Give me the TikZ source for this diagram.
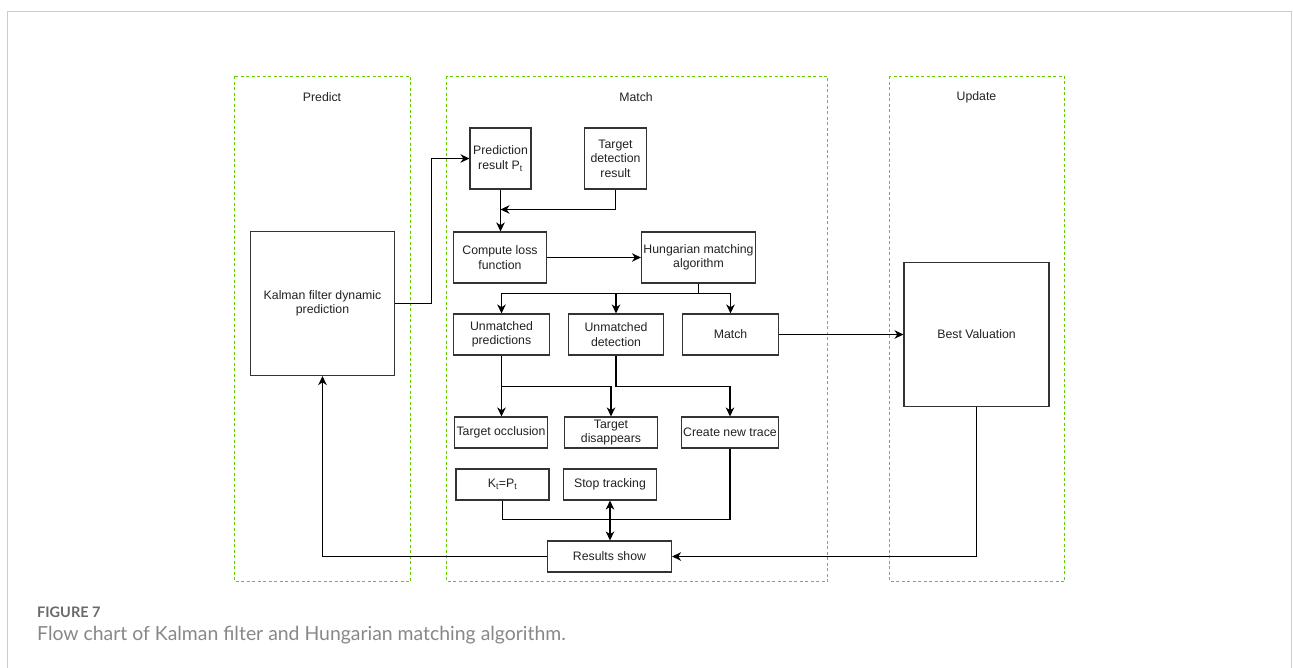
\documentclass[tikz,border=0pt]{standalone}
\usepackage{fontspec}
\setmainfont{Liberation Sans}
\newfontfamily\capfont{Lato}
\usetikzlibrary{arrows.meta,calc}
\definecolor{grn}{HTML}{66CC00}
\definecolor{boxc}{HTML}{333333}
\definecolor{txtc}{HTML}{222222}
\definecolor{framec}{HTML}{CCCCCC}
\definecolor{capc}{HTML}{888888}
\definecolor{figc}{HTML}{6A6A6A}
\begin{document}
\begin{tikzpicture}[x=1pt,y=-1pt,
  box/.style={draw=boxc,line width=1.1pt,fill=white,align=center,inner sep=0pt,
    font=\fontsize{12.3}{14.5}\selectfont,text=txtc},
  group/.style={draw=grn,line width=0.9pt,dash pattern=on 3pt off 2.5pt},
  grouplabel/.style={font=\fontsize{12.3}{14.5}\selectfont,text=txtc},
  conn/.style={draw=black,line width=1.1pt},
  tip/.style={},
  arr/.style={conn,-{Stealth[length=9pt,width=8.5pt,inset=2.8pt]}},
  darr/.style={conn,{Stealth[length=9pt,width=8.5pt,inset=2.8pt]}-{Stealth[length=9pt,width=8.5pt,inset=2.8pt]}}]
\useasboundingbox (0,0) rectangle (1293,668);
\fill[white] (0,0) rectangle (1293,668);
% outer frame (open at bottom)
\draw[framec,line width=1.2pt] (7.5,668) -- (7.5,11.5) -- (1291.5,11.5) -- (1291.5,668);
% groups
\draw[group] (234.5,76.5) rectangle (410.5,581.5);
\draw[group] (446.5,76.5) rectangle (827.5,581.5);
\draw[group] (889.5,76.5) rectangle (1064.5,581.5);
\node[grouplabel] (lpred) at (322,97.5) {Predict};
\node[grouplabel] (lmatch) at (636,97.5) {Match};
\node[grouplabel] (lupd) at (976.5,97.5) {Update};
% boxes
\node[box,minimum width=144pt,minimum height=144pt] (kal) at (322.5,303.5) {Kalman filter dynamic\\prediction};
\node[box,minimum width=61pt,minimum height=61pt] (pred) at (500.5,158.5) {Prediction\\result P\textsubscript{t}};
\node[box,minimum width=62pt,minimum height=61pt] (tdet) at (615.5,158.5) {Target\\detection\\result};
\node[box,minimum width=93pt,minimum height=51pt] (loss) at (500,257.5) {Compute loss\\function};
\node[box,minimum width=114pt,minimum height=51pt] (hung) at (698.5,257.5) {Hungarian matching\\algorithm};
\node[box,minimum width=96pt,minimum height=41pt] (upred) at (501.5,334.5) {Unmatched\\predictions};
\node[box,minimum width=95pt,minimum height=41pt] (udet) at (616,334.5) {Unmatched\\detection};
\node[box,minimum width=96pt,minimum height=41pt] (match) at (730.5,334.5) {Match};
\node[box,minimum width=93pt,minimum height=31pt] (occ) at (501,432.5) {Target occlusion};
\node[box,minimum width=93pt,minimum height=31pt] (dis) at (611,432.5) {Target\\disappears};
\node[box,minimum width=97pt,minimum height=31pt] (cnew) at (730,432.5) {Create new trace};
\node[box,minimum width=93pt,minimum height=31pt] (kt) at (502.5,484.5) {K\textsubscript{t}=P\textsubscript{t}};
\node[box,minimum width=93pt,minimum height=31pt] (stop) at (610,484.5) {Stop tracking};
\node[box,minimum width=124pt,minimum height=31pt] (res) at (609.5,556.5) {Results show};
\node[box,minimum width=145pt,minimum height=144pt] (best) at (976.5,334.5) {Best Valuation};
% junction coordinates
\coordinate (kj) at (431.5,303.5);
\coordinate (tj) at (500.5,209.5);
\coordinate (hb) at (698.5,293.5);
\coordinate (uj) at (501.5,386.5);
\coordinate (bj) at (610.5,519.5);
% connectors
\draw[arr] (kal.east) -- (kj) |- (pred.west);
\draw[arr] (pred.south) -- (pred.south |- loss.north);
\draw[arr] (tdet.south) |- (tj);
\draw[arr] (loss.east) -- (hung.west);
\draw[conn] (hung.south) -- (hb);
\draw[arr] (hb) -| (upred.north);
\draw[arr] (hb) -| (udet.north);
\draw[arr] (hb) -| (match.north);
\draw[arr] (match.east) -- (best.west);
\draw[arr] (upred.south) -- (upred.south |- occ.north);
\draw[arr] (uj) -| (dis.north);
\draw[arr] (udet.south) |- (udet.south |- uj) -| (cnew.north);
\draw[conn] (kt.south) |- (bj) -| (cnew.south);
\draw[darr] (stop.south) -- (stop.south |- res.north);
\draw[arr] (res.west) -| (kal.south);
\draw[arr] (best.south) |- (res.east);
% caption
\node[anchor=base west,inner sep=0pt,text=figc,font=\capfont\bfseries\fontsize{14.5}{16}\selectfont] (fig) at (37,617.7) {FIGURE 7};
\node[anchor=base west,inner sep=0pt,text=capc,font=\capfont\fontsize{19.4}{22}\selectfont] (cap) at (37,640.7) {Flow chart of Kalman filter and Hungarian matching algorithm.};
\end{tikzpicture}
\end{document}
